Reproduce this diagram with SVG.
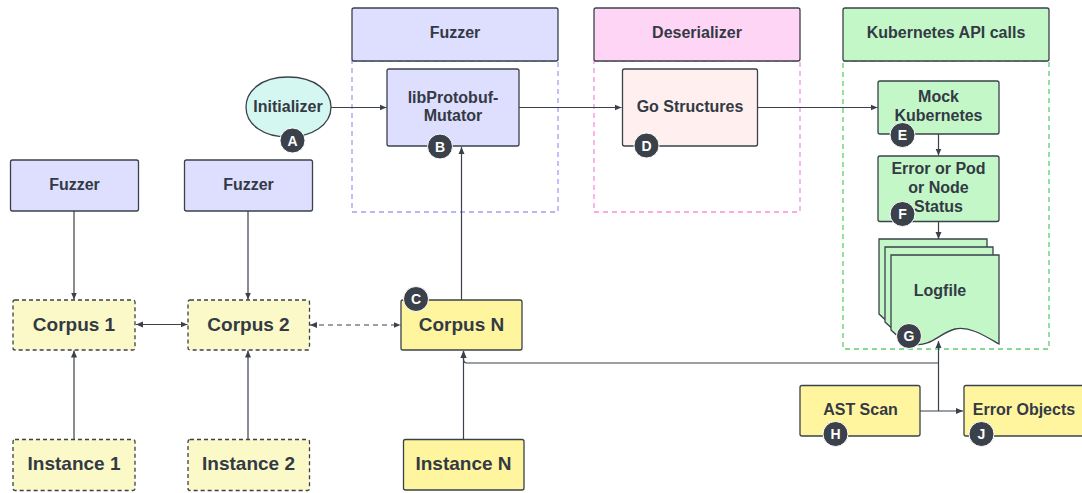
<svg xmlns="http://www.w3.org/2000/svg" width="1082" height="493" viewBox="0 0 1082 493">
<defs>
<marker id="arr" markerWidth="8" markerHeight="8" refX="7" refY="3.5" orient="auto-start-reverse" markerUnits="userSpaceOnUse">
<path d="M0,0.5 L7,3.5 L0,6.5 Z" fill="#3a414a"/>
</marker>
<style>
text{font-family:"Liberation Sans",Arial,sans-serif;font-weight:bold;fill:#333a44;text-anchor:middle}
.t16{font-size:16px}
.t19{font-size:19px}
.box{stroke:#3a414a;stroke-width:1.3}
.purple{fill:#dedeff}
.pink{fill:#ffd5f5}
.green{fill:#c3f7c8}
.peach{fill:#fff0ef}
.mint{fill:#d5f7f2}
.ly{fill:#fcf9c8}
.dy{fill:#fff59f}
.dash{stroke-dasharray:4 3}
.cont{fill:none;stroke-width:1.3;stroke-dasharray:5 4}
.badge circle{fill:#3a414a;stroke:#fff;stroke-width:1}
.badge text{fill:#fff;font-size:14px}
.conn path{fill:none;stroke:#3a414a;stroke-width:1.2}
</style>
</defs>

<!-- containers -->
<g id="fuzzer-container">
<rect x="352" y="61" width="206" height="151" class="cont" stroke="#9f9ff8"/>
<rect x="352" y="8" width="206" height="53" rx="2" class="box purple"/>
<text x="455" y="38" class="t16">Fuzzer</text>
</g>
<g id="deserializer-container">
<rect x="594" y="61" width="206" height="151" class="cont" stroke="#f78fe0"/>
<rect x="594" y="8" width="206" height="53" rx="2" class="box pink"/>
<text x="697" y="38" class="t16">Deserializer</text>
</g>
<g id="k8s-container">
<rect x="843" y="61" width="206" height="288" class="cont" stroke="#5fcf6c"/>
<rect x="843" y="8" width="206" height="53" rx="2" class="box green"/>
<text x="946" y="38" class="t16">Kubernetes API calls</text>
</g>

<!-- connectors -->
<g id="connectors" class="conn">
<path d="M331,107.5 H386.5" marker-end="url(#arr)"/>
<path d="M519,107.5 H621.5" marker-end="url(#arr)"/>
<path d="M757,107.5 H877.5" marker-end="url(#arr)"/>
<path d="M938.5,134 V155.5" marker-end="url(#arr)"/>
<path d="M938.5,221.5 V239" marker-end="url(#arr)"/>
<path d="M461.5,300 V147" marker-end="url(#arr)"/>
<path d="M74,211 V299.5" marker-end="url(#arr)"/>
<path d="M248,211 V299.5" marker-end="url(#arr)"/>
<path d="M74,439 V350.5" marker-end="url(#arr)"/>
<path d="M248,439 V350.5" marker-end="url(#arr)"/>
<path d="M136,324.5 H187.5" marker-start="url(#arr)" marker-end="url(#arr)"/>
<path d="M310,325 H400.5" stroke-dasharray="5 4" marker-start="url(#arr)" marker-end="url(#arr)"/>
<path d="M463.5,439 V351" marker-end="url(#arr)"/>
<path d="M920,411 H963" marker-end="url(#arr)"/>
<path d="M938.5,411 V341" marker-end="url(#arr)"/>
<path d="M938.5,363 H467 Q463.5,363 463.5,359 V351" marker-end="url(#arr)"/>
</g>

<!-- nodes -->
<g id="initializer">
<path d="M288,77 C316,77 331,92 331,107 C331,125 312,137 288,137 C264,137 246,125 246,107 C246,92 260,77 288,77 Z" class="box mint"/>
<text x="288" y="112" class="t16">Initializer</text>
</g>
<g id="libprotobuf">
<rect x="387" y="69" width="132" height="77" rx="2" class="box purple"/>
<text x="453" y="103" class="t16">libProtobuf-</text>
<text x="453" y="121" class="t16">Mutator</text>
</g>
<g id="go-structures">
<rect x="622.5" y="69" width="135" height="77" rx="2" class="box peach"/>
<text x="690" y="112" class="t16">Go Structures</text>
</g>
<g id="mock-k8s">
<rect x="878" y="81" width="121" height="53" rx="2" class="box green"/>
<text x="938.5" y="102" class="t16">Mock</text>
<text x="938.5" y="121" class="t16">Kubernetes</text>
</g>
<g id="status">
<rect x="878" y="156" width="121" height="65.5" rx="2" class="box green"/>
<text x="938.5" y="174" class="t16">Error or Pod</text>
<text x="938.5" y="193" class="t16">or Node</text>
<text x="938.5" y="212" class="t16">Status</text>
</g>
<g id="logfile">
<path d="M879,239 H987 V328 C973,320 958,310 943,313 C929,316 918,332 901,328 C892,326 885,320 879,314 Z" class="box green"/>
<path d="M885,247 H993 V336 C979,328 964,318 949,321 C935,324 924,340 907,336 C898,334 891,328 885,322 Z" class="box green"/>
<path d="M891,255 H999 V344 C985,336 970,326 955,329 C941,332 930,348 913,344 C904,342 897,336 891,330 Z" class="box green"/>
<text x="940" y="296" class="t16">Logfile</text>
</g>
<g id="fuzzer-1">
<rect x="10.5" y="160" width="128" height="51" rx="2" class="box purple"/>
<text x="74.5" y="190" class="t16">Fuzzer</text>
</g>
<g id="fuzzer-2">
<rect x="184.5" y="160" width="128" height="51" rx="2" class="box purple"/>
<text x="248.5" y="190" class="t16">Fuzzer</text>
</g>
<g id="corpus-1">
<rect x="13" y="300" width="122" height="50" rx="2" class="box ly dash"/>
<text x="74" y="331" class="t19">Corpus 1</text>
</g>
<g id="corpus-2">
<rect x="188" y="300" width="121.5" height="50" rx="2" class="box ly dash"/>
<text x="248.5" y="331" class="t19">Corpus 2</text>
</g>
<g id="corpus-n">
<rect x="401" y="300" width="121" height="50" rx="2" class="box dy"/>
<text x="461.5" y="331" class="t19">Corpus N</text>
</g>
<g id="instance-1">
<rect x="13" y="439.5" width="122" height="51" rx="2" class="box ly dash"/>
<text x="74" y="470" class="t19">Instance 1</text>
</g>
<g id="instance-2">
<rect x="188" y="439.5" width="121.5" height="51" rx="2" class="box ly dash"/>
<text x="248.5" y="470" class="t19">Instance 2</text>
</g>
<g id="instance-n">
<rect x="403.5" y="439.5" width="120.5" height="50.5" rx="2" class="box dy"/>
<text x="463.5" y="470" class="t19">Instance N</text>
</g>
<g id="ast-scan">
<rect x="800" y="385.5" width="120" height="50.5" rx="2" class="box dy"/>
<text x="860.5" y="415" class="t16">AST Scan</text>
</g>
<g id="error-objects">
<rect x="964" y="385.5" width="122" height="50.5" rx="2" class="box dy"/>
<text x="1024" y="415" class="t16">Error Objects</text>
</g>

<!-- badges -->
<g id="badge-a" class="badge"><circle cx="292.5" cy="140.5" r="12.5"/><text x="292.5" y="145.5">A</text></g>
<g id="badge-b" class="badge"><circle cx="440" cy="146.5" r="12.5"/><text x="440" y="151.5">B</text></g>
<g id="badge-c" class="badge"><circle cx="416" cy="299" r="12.5"/><text x="416" y="304">C</text></g>
<g id="badge-d" class="badge"><circle cx="646.5" cy="145.5" r="12.5"/><text x="646.5" y="150.5">D</text></g>
<g id="badge-e" class="badge"><circle cx="902.5" cy="135" r="12.5"/><text x="902.5" y="140">E</text></g>
<g id="badge-f" class="badge"><circle cx="902.5" cy="214" r="12.5"/><text x="902.5" y="219">F</text></g>
<g id="badge-g" class="badge"><circle cx="909" cy="336" r="12.5"/><text x="909" y="341">G</text></g>
<g id="badge-h" class="badge"><circle cx="835.5" cy="434" r="12.5"/><text x="835.5" y="439">H</text></g>
<g id="badge-j" class="badge"><circle cx="981.5" cy="434" r="12.5"/><text x="981.5" y="439">J</text></g>
</svg>
